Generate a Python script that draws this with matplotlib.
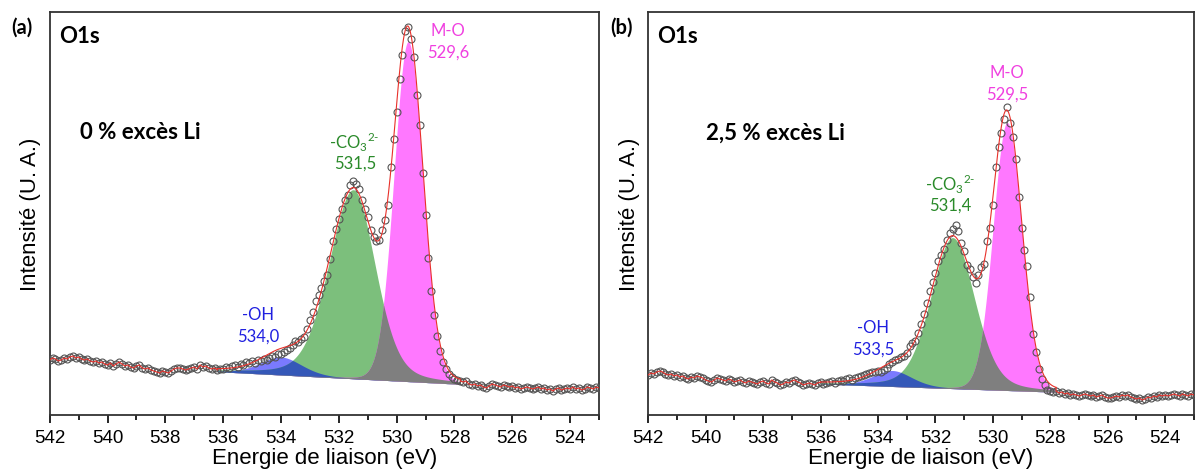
import numpy as np
import matplotlib
matplotlib.use("Agg")
import matplotlib.pyplot as plt

# measured O1s points, 542.0 -> 523.0 eV, step 0.1 eV (arb. units)
o1s_a = [55, 57, 56, 54, 55, 57, 56, 58, 59, 57,
         58, 56, 55, 56, 54, 53, 54, 52, 53, 51,
         50, 52, 49, 51, 53, 51, 49, 50, 48, 47,
         49, 50, 47, 46, 47, 45, 44, 43, 42, 44,
         43, 42, 44, 46, 47, 47, 46, 45, 46, 47,
         48, 46, 50, 48, 49, 47, 46, 47, 45, 46,
         46,
         48, 47, 49, 50, 48, 51, 50, 53, 52, 54,
         52, 55, 54, 56, 55, 57, 59, 58, 61, 61,
         63, 65, 67, 70, 74, 73, 76, 78, 86, 95,
         103, 114, 120, 127, 134, 140, 156, 174, 186, 196,
         206, 215, 220, 230, 234, 231, 226, 215, 206, 198,
         185, 178, 174, 175, 185, 195, 210, 248, 276, 303,
         336, 360, 384, 388, 376, 358, 320, 290, 242, 200,
         157, 124, 100, 79, 64, 53, 46, 41, 38, 36,
         35, 34, 33, 34, 31, 30, 31, 29, 30, 28,
         27, 29, 31, 30, 29, 28, 30, 29, 28, 29,
         27, 28, 26, 27, 28, 27, 26, 27, 28, 26,
         27, 25, 26, 24, 26, 27, 25, 26, 27, 26,
         28, 26, 27, 25, 26, 28, 27, 26, 28, 27]

o1s_b = [40, 42, 41, 43, 44, 43, 41, 40, 41, 39,
         40, 38, 39, 37, 36, 38, 37, 39, 38, 37,
         35, 34, 33, 35, 37, 36, 35, 34, 36, 35,
         33, 34, 35, 33, 32, 34, 33, 32, 31, 33,
         34, 32, 31, 35, 33, 32, 30, 31, 33, 32,
         34, 35, 33, 32, 30, 31, 32, 31, 30, 32,
         33,
         31, 32, 33, 34, 32, 34, 35, 34, 36, 37,
         35, 37, 38, 39, 40, 41, 42, 43, 43, 44,
         43, 45, 47, 51, 53, 55, 56, 58, 59, 62,
         69, 72, 74, 82, 91, 101, 112, 124, 133, 142,
         154, 160, 166, 175, 182, 186, 190, 184, 172, 164,
         150, 146, 138, 132, 140, 148, 151, 174, 187, 210,
         248, 268, 282, 296, 308, 292, 278, 256, 218, 187,
         165, 149, 118, 81, 63, 46, 36, 30, 25, 24,
         23, 24, 22, 23, 21, 22, 20, 21, 20, 19,
         20, 21, 20, 19, 20, 18, 19, 20, 18, 17,
         17, 18, 19, 18, 20, 19, 20, 18, 17, 16,
         17, 15, 16, 18, 17, 19, 18, 20, 19, 20,
         19, 20, 21, 20, 19, 21, 20, 19, 21, 20]

# fitted components: -OH, -CO3(2-), M-O
centres_a = [534.0, 531.5, 529.6]
heights_a = [18, 189, 340]
hwhm_hi_a = [0.85, 1.0, 0.58]   # high binding energy side
hwhm_lo_a = [0.85, 0.9, 0.60]   # low binding energy side

centres_b = [533.5, 531.4, 529.5]
heights_b = [16, 151, 268]
hwhm_hi_b = [0.8, 0.9, 0.58]
hwhm_lo_b = [0.8, 0.9, 0.60]

eta = [0.3, 0.25, 0.05]         # lorentzian fraction

# linear background (value at 536 eV, value at 528 eV) and fit window
bg_a = (43, 31)
bg_b = (31, 23)
window_a = (536.2, 527.8)
window_b = (536.0, 527.8)

labels_a = ["534,0", "531,5", "529,6"]
labels_b = ["533,5", "531,4", "529,5"]
names = ["-OH", r"-CO$_\mathregular{3}$$^{\mathregular{2}\text{-}}$", "M-O"]
txt_col = ["#2020e0", "#2a8a2a", "#f040e0"]

fill_col = ["#7a7aff", "#7cbf7c", "#ff78ff"]
col_blue_green = "#3558b8"
col_green_mo = "#7f7f7f"

plt.rcParams["font.family"] = ["Liberation Sans", "DejaVu Sans"]
plt.rcParams["mathtext.fontset"] = "custom"
plt.rcParams["mathtext.rm"] = "Lato"
ann_font = ["Lato", "DejaVu Sans"]


def pv(E, c, h, whi, wlo, et):
    w = np.where(E > c, whi, wlo)
    d = (E - c) / w
    return h * (et / (1 + d**2) + (1 - et) * np.exp(-np.log(2) * d**2))


def panel(ax, vals, centres, heights, whi, wlo, bg, window, lbls, label_pos, sample):
    vals = np.array(vals, dtype=float)
    E = 542.0 - 0.1 * np.arange(len(vals))
    Ef = np.linspace(window[0], window[1], 600)
    base = bg[0] + (bg[1] - bg[0]) * (536.0 - Ef) / 8.0
    comps = [pv(Ef, centres[i], heights[i], whi[i], wlo[i], eta[i]) for i in range(3)]
    for i in range(3):
        ax.fill_between(Ef, base, base + comps[i], color=fill_col[i], lw=0, zorder=1)
    ax.fill_between(Ef, base, base + np.minimum(comps[0], comps[1]), color=col_blue_green, lw=0, zorder=2)
    ax.fill_between(Ef, base, base + np.minimum(comps[1], comps[2]), color=col_green_mo, lw=0, zorder=2)
    env = base + comps[0] + comps[1] + comps[2]
    left = E >= window[0]
    right = E <= window[1]
    red = dict(color="#e8302a", lw=0.8, zorder=4)
    ax.plot(np.r_[E[left], Ef[0]], np.r_[vals[left], env[0]], **red)
    ax.plot(Ef, env, **red)
    ax.plot(np.r_[Ef[-1], E[right]], np.r_[env[-1], vals[right]], **red)
    ax.plot(E, vals, "o", ms=5, mfc="none", mec="#555555", mew=0.8, zorder=3)

    ax.set_xlim(542, 523.05)
    ax.set_ylim(0, 403)
    ax.set_xticks(np.arange(542, 522, -2))
    ax.set_xticks(np.arange(541, 522, -2), minor=True)
    ax.set_yticks([])
    ax.tick_params(axis="x", which="major", direction="out", length=6, width=1.2, labelsize=13.5, pad=4)
    ax.tick_params(axis="x", which="minor", direction="out", length=3.5, width=1.2)
    for s in ax.spines.values():
        s.set_linewidth(1.3)
        s.set_color("#333333")
    ax.set_xlabel("Energie de liaison (eV)", fontsize=16, labelpad=1)
    ax.set_ylabel("Intensité (U. A.)", fontsize=16, labelpad=6)

    for i in range(3):
        xp, yp = label_pos[i]
        ax.text(xp, yp + 11, names[i], color=txt_col[i], fontsize=12, family=ann_font, ha="center", va="center")
        ax.text(xp, yp - 11, lbls[i], color=txt_col[i], fontsize=12, family=ann_font, ha="center", va="center")
    ax.text(541.68, 379, "O1s", fontsize=16, fontweight="bold", family=ann_font, ha="left", va="center")
    ax.text(sample[0], 283, sample[1], fontsize=16, fontweight="bold", family=ann_font, ha="left", va="center")


fig = plt.figure(figsize=(11.95, 4.77), dpi=100)
ax1 = fig.add_axes([0.0416, 0.1279, 0.4597, 0.8449])
ax2 = fig.add_axes([0.5424, 0.1279, 0.4567, 0.8449])

panel(ax1, o1s_a, centres_a, heights_a, hwhm_hi_a, hwhm_lo_a, bg_a, window_a, labels_a,
      [(534.78, 90), (531.45, 263), (528.23, 374)], (540.95, "0 % excès Li"))
panel(ax2, o1s_b, centres_b, heights_b, hwhm_hi_b, hwhm_lo_b, bg_b, window_b, labels_b,
      [(534.17, 77), (531.47, 221), (529.51, 332)], (540.0, "2,5 % excès Li"))

fig.text(0.0184, 0.941, "(a)", fontsize=14.5, fontweight="bold", family=ann_font, ha="center", va="center")
fig.text(0.520, 0.942, "(b)", fontsize=14.5, fontweight="bold", family=ann_font, ha="center", va="center")

fig.savefig("out.png", dpi=100)
